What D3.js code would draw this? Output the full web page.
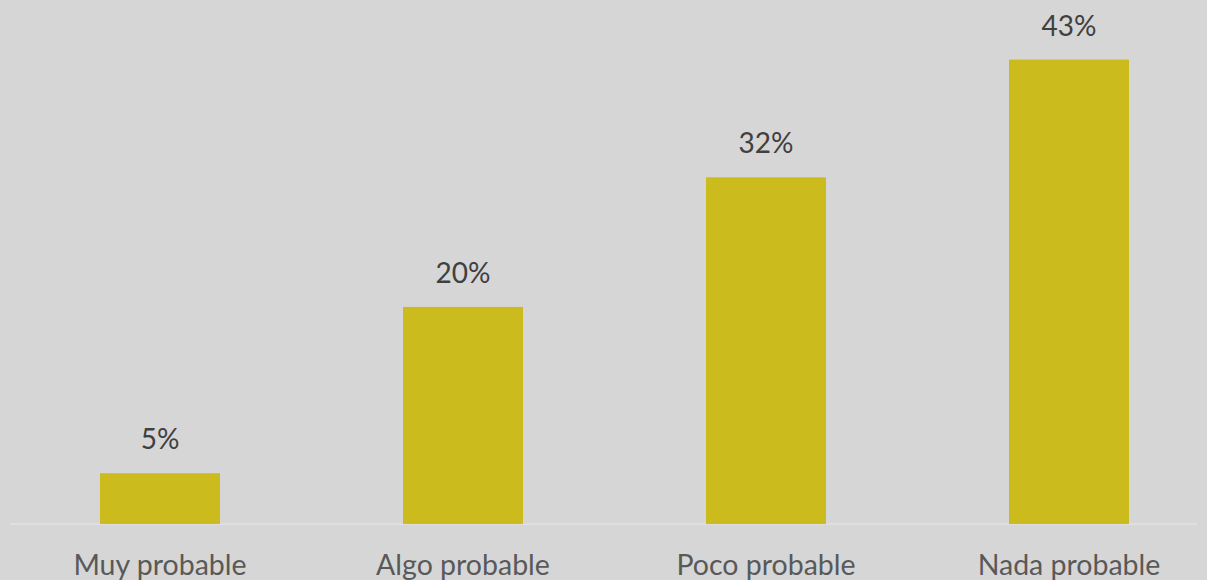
<!DOCTYPE html>
<html><head><meta charset="utf-8">
<script src="https://cdn.jsdelivr.net/npm/d3@7/dist/d3.min.js"></script>
<style>html,body{margin:0;padding:0;background:#d6d6d6;}svg{display:block;}</style>
</head><body>
<svg id="chart" width="1207" height="580"></svg>
<script>
const categories = ["Muy probable", "Algo probable", "Poco probable", "Nada probable"];
const values = [4.7, 20.1, 32.1, 43.0];

const W = 1207, H = 580;
const svg = d3.select("#chart");
svg.append("rect").attr("width", W).attr("height", H).attr("fill", "#d6d6d6");

const baseY = 524;
const x = d3.scaleBand().domain(categories).range([8.5, 1220.5])
  .paddingInner(0.604).paddingOuter(0.302);
const y = d3.scaleLinear().domain([0, 45]).range([baseY, baseY - 486]);

svg.append("line").attr("x1", 10).attr("x2", 1197).attr("y1", baseY).attr("y2", baseY)
  .attr("stroke", "#e2e2e2").attr("stroke-width", 1.5);

svg.selectAll("rect.bar").data(values).enter().append("rect").attr("class", "bar")
  .attr("x", (d, i) => x(categories[i])).attr("width", x.bandwidth())
  .attr("y", d => y(d)).attr("height", d => y(0) - y(d))
  .attr("fill", "#cbbb1d");

const fmt = d3.format(".0f");
svg.selectAll("text.val").data(values).enter().append("text").attr("class", "val")
  .attr("x", (d, i) => x(categories[i]) + x.bandwidth() / 2)
  .attr("y", d => y(d) - 24)
  .attr("text-anchor", "middle")
  .attr("font-family", "Lato, 'Open Sans', sans-serif").attr("font-size", 28)
  .attr("fill", "#404040")
  .text(d => fmt(d) + "%");

svg.selectAll("text.cat").data(categories).enter().append("text").attr("class", "cat")
  .attr("x", d => x(d) + x.bandwidth() / 2)
  .attr("y", 575)
  .attr("text-anchor", "middle")
  .attr("font-family", "Lato, 'Open Sans', sans-serif").attr("font-size", 28.5)
  .attr("fill", "#595959")
  .text(d => d);
</script>
</body></html>
